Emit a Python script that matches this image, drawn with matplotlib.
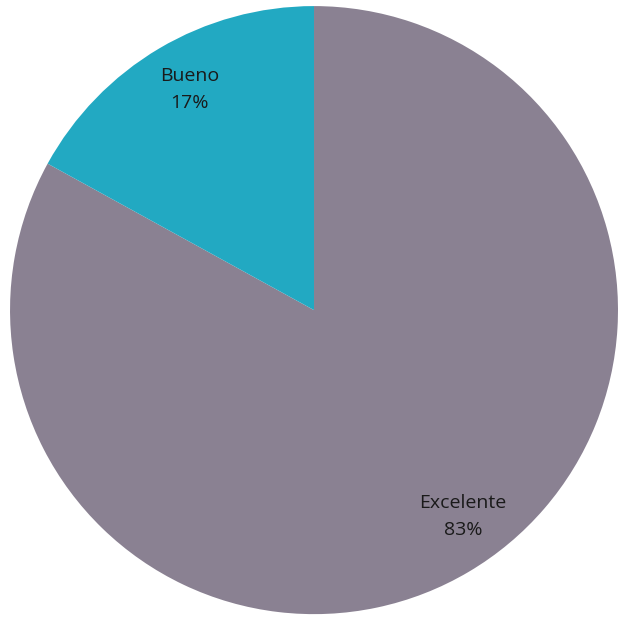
import matplotlib.pyplot as plt

# Categories and shares (%)
categories = ['Excelente', 'Bueno']
values = [83, 17]
colors = ['#8a8192', '#22a9c2']

labels = iter([f'{c}\n{v}%' for c, v in zip(categories, values)])

fig = plt.figure(figsize=(6.18, 6.19), dpi=100)
ax = fig.add_axes([0, 0, 1, 1])

wedges, texts, autotexts = ax.pie(values, colors=colors, startangle=90, counterclock=False,
                                  radius=1.0, autopct=lambda p: next(labels), pctdistance=0.83,
                                  textprops={'fontsize': 14, 'family': 'Open Sans', 'color': '#1a1a1a',
                                             'linespacing': 1.65},
                                  wedgeprops={'linewidth': 0})

# nudge the labels a little, like the original
autotexts[0].set_position((0.49, -0.68))
autotexts[1].set_position((-0.41, 0.725))

ax.set_xlim(-1.033, 1.0)
ax.set_ylim(-1.016, 1.02)
ax.set_aspect('auto')
ax.axis('off')

plt.savefig('out.png', dpi=100)
